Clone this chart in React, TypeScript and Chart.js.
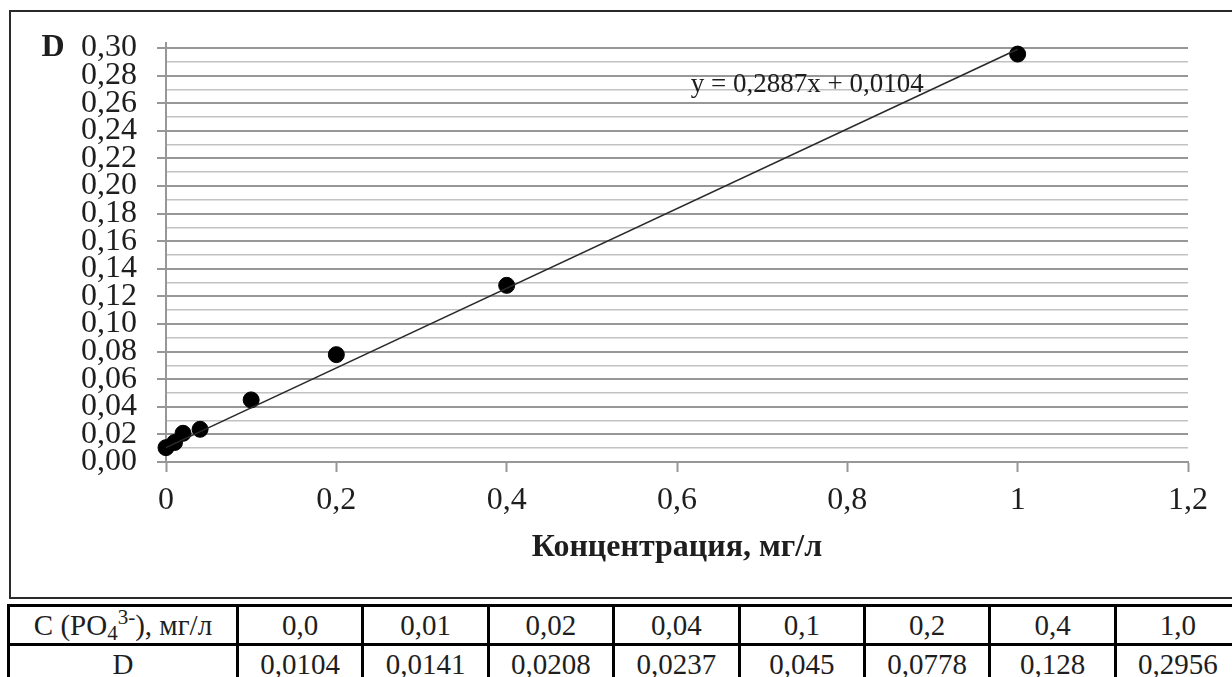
import React, { useEffect, useRef } from "react";
import { Chart, registerables } from "chart.js";

Chart.register(...registerables);

// Calibration data: phosphate concentration (mg/l) and optical density D
const concentrations = [0, 0.01, 0.02, 0.04, 0.1, 0.2, 0.4, 1.0];
const absorbance = [0.0104, 0.0141, 0.0208, 0.0237, 0.045, 0.0778, 0.128, 0.2956];
const concLabels = ["0,0", "0,01", "0,02", "0,04", "0,1", "0,2", "0,4", "1,0"];
const absLabels = ["0,0104", "0,0141", "0,0208", "0,0237", "0,045", "0,0778", "0,128", "0,2956"];

// Linear fit
const slope = 0.2887;
const intercept = 0.0104;
const fitRange = [0, 1];
const equationText = "y = 0,2887x + 0,0104";

// Axis setup
const xMin = 0;
const xMax = 1.2;
const xStep = 0.2;
const yMin = 0;
const yMax = 0.3;
const yMinorStep = 0.01;

const axisTitleX = "Концентрация, мг/л";
const axisTitleY = "D";

const SERIF = '"Liberation Serif", "Times New Roman", serif';
const TEXT = "#1e1e1e";
const GRID_MAJOR = "#979797";
const GRID_MINOR = "#c2c2c2";

const isMajor = (v: number) => Math.round(v / yMinorStep) % 2 === 0;

const textPlugin = {
  id: "chartTexts",
  beforeDatasetsDraw(chart: any) {
    // the value axis line runs a little above the top gridline
    const { ctx, chartArea } = chart;
    ctx.save();
    ctx.strokeStyle = GRID_MAJOR;
    ctx.lineWidth = 2;
    ctx.beginPath();
    ctx.moveTo(chartArea.left, chartArea.top - 6);
    ctx.lineTo(chartArea.left, chartArea.top);
    ctx.stroke();
    ctx.restore();
  },
  afterDatasetsDraw(chart: any) {
    const { ctx, chartArea, scales } = chart;
    ctx.save();
    ctx.fillStyle = TEXT;
    ctx.textBaseline = "middle";
    // vertical axis name
    ctx.font = `bold 32px ${SERIF}`;
    ctx.textAlign = "center";
    ctx.fillText(axisTitleY, 53, scales.y.getPixelForValue(yMax));
    // horizontal axis name
    ctx.font = `bold 32px ${SERIF}`;
    ctx.fillText(axisTitleX, (chartArea.left + chartArea.right) / 2, 548);
    // regression equation
    ctx.font = `27px ${SERIF}`;
    ctx.fillText(equationText, scales.x.getPixelForValue(0.753), scales.y.getPixelForValue(0.273));
    ctx.restore();
  },
};

function CalibrationChart() {
  const ref = useRef<HTMLCanvasElement | null>(null);

  useEffect(() => {
    if (!ref.current) return;
    const points = concentrations.map((x, i) => ({ x, y: absorbance[i] }));
    const fit = fitRange.map((x) => ({ x, y: slope * x + intercept }));

    const chart = new Chart(ref.current, {
      type: "scatter",
      data: {
        datasets: [
          {
            data: fit,
            showLine: true,
            borderColor: "#2a2a2a",
            borderWidth: 1.6,
            pointRadius: 0,
            clip: false,
          } as any,
          {
            data: points,
            backgroundColor: "#000000",
            borderColor: "#000000",
            pointRadius: 8,
            pointHoverRadius: 8,
            clip: false,
          } as any,
        ],
      },
      options: {
        animation: false,
        responsive: false,
        maintainAspectRatio: false,
        events: [],
        layout: { padding: { left: 0, top: 48, right: 44, bottom: 0 } },
        plugins: { legend: { display: false }, tooltip: { enabled: false } },
        scales: {
          x: {
            type: "linear",
            min: xMin,
            max: xMax,
            afterFit: (s: any) => {
              s.height = 138;
            },
            afterBuildTicks: (s: any) => {
              const n = Math.round((xMax - xMin) / xStep);
              s.ticks = Array.from({ length: n + 1 }, (_, i) => ({ value: xMin + i * xStep }));
            },
            grid: {
              drawOnChartArea: false,
              drawTicks: true,
              tickLength: 10,
              tickColor: GRID_MAJOR,
              tickWidth: 2,
            },
            border: { color: GRID_MAJOR, width: 2 },
            ticks: {
              autoSkip: false,
              maxRotation: 0,
              padding: 9,
              color: TEXT,
              font: { family: SERIF, size: 32 },
              callback: (v: any) => String(Number(Number(v).toFixed(1))).replace(".", ","),
            },
          },
          y: {
            type: "linear",
            min: yMin,
            max: yMax,
            afterFit: (s: any) => {
              s.width = 166;
            },
            afterBuildTicks: (s: any) => {
              const n = Math.round((yMax - yMin) / yMinorStep);
              s.ticks = Array.from({ length: n + 1 }, (_, i) => ({ value: yMin + i * yMinorStep }));
            },
            grid: {
              drawTicks: true,
              tickLength: 9,
              color: (c: any) => (isMajor(c.tick.value) ? GRID_MAJOR : GRID_MINOR),
              lineWidth: (c: any) => (isMajor(c.tick.value) ? 2 : 1.6),
              tickColor: (c: any) => (isMajor(c.tick.value) ? GRID_MAJOR : "rgba(0,0,0,0)"),
              tickWidth: 2,
            },
            border: { color: GRID_MAJOR, width: 2 },
            ticks: {
              autoSkip: false,
              padding: 20,
              color: TEXT,
              font: { family: SERIF, size: 32 },
              callback: (v: any) => (isMajor(Number(v)) ? Number(v).toFixed(2).replace(".", ",") : ""),
            },
          },
        },
      } as any,
      plugins: [textPlugin],
    });
    return () => chart.destroy();
  }, []);

  return (
    <canvas
      ref={ref}
      width={1232}
      height={600}
      style={{ position: "absolute", left: 0, top: 0, width: 1232, height: 600 }}
    />
  );
}

const cellStyle: React.CSSProperties = {
  border: "3px solid #000",
  textAlign: "center",
  padding: 0,
  height: 36,
  fontFamily: SERIF,
  fontSize: 29,
  color: TEXT,
  lineHeight: "36px",
  whiteSpace: "nowrap",
  overflow: "hidden",
};

const smallScript: React.CSSProperties = {
  fontSize: 21,
  position: "relative",
  lineHeight: 0,
};

export default function App() {
  const dataColWidth = 125.4;
  return (
    <div
      style={{
        position: "absolute",
        left: 0,
        top: 0,
        width: 1232,
        height: 677,
        overflow: "hidden",
        background: "#fff",
      }}
    >
      <div
        style={{
          position: "absolute",
          left: 9,
          top: 10,
          width: 1250,
          height: 589,
          border: "2px solid #2a2a2a",
          boxSizing: "border-box",
        }}
      />
      <CalibrationChart />
      <table
        style={{
          position: "absolute",
          left: 7,
          top: 604,
          borderCollapse: "collapse",
          tableLayout: "fixed",
          width: 229 + dataColWidth * concLabels.length,
        }}
      >
        <colgroup>
          <col style={{ width: 229 }} />
          {concLabels.map((_, i) => (
            <col key={i} style={{ width: dataColWidth }} />
          ))}
        </colgroup>
        <tbody>
          <tr>
            <td style={{ ...cellStyle, fontSize: 29 }}>
              C (PO
              <span style={{ ...smallScript, top: 5 }}>4</span>
              <span style={{ ...smallScript, top: -11 }}>3-</span>
              ), мг/л
            </td>
            {concLabels.map((t, i) => (
              <td key={i} style={cellStyle}>
                {t}
              </td>
            ))}
          </tr>
          <tr>
            <td style={cellStyle}>D</td>
            {absLabels.map((t, i) => (
              <td key={i} style={cellStyle}>
                {t}
              </td>
            ))}
          </tr>
        </tbody>
      </table>
    </div>
  );
}
